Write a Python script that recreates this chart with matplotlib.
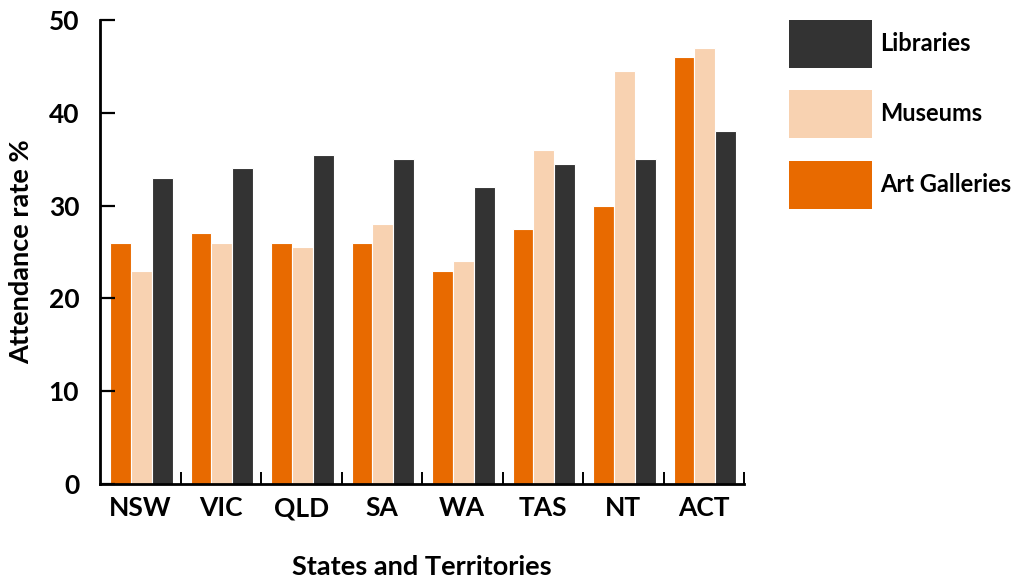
import numpy as np
import matplotlib
matplotlib.use("Agg")
import matplotlib.pyplot as plt
from matplotlib.patches import Patch

states = ["NSW", "VIC", "QLD", "SA", "WA", "TAS", "NT", "ACT"]
art_galleries = [26, 27, 26, 26, 23, 27.5, 30, 46]
museums = [23, 26, 25.5, 28, 24, 36, 44.5, 47]
libraries = [33, 34, 35.5, 35, 32, 34.5, 35, 38]

c_art = "#e86a00"
c_mus = "#f8d2b1"
c_lib = "#333333"

plt.rcParams["font.family"] = ["Lato", "DejaVu Sans"]
plt.rcParams["font.weight"] = "bold"
plt.rcParams["axes.labelweight"] = "bold"

fig = plt.figure(figsize=(10.11, 5.81), dpi=100)
ax = fig.add_axes([100 / 1011, 97 / 581, 644 / 1011, 464 / 581])

x = np.arange(len(states)) + 0.515
w = 0.26
ax.bar(x - w, art_galleries, w, color=c_art, edgecolor="white", linewidth=0.8)
ax.bar(x, museums, w, color=c_mus, edgecolor="white", linewidth=0.8)
ax.bar(x + w, libraries, w, color=c_lib, edgecolor="white", linewidth=0.8)

ax.set_xlim(0, len(states))
ax.set_ylim(0, 50)
ax.set_yticks(range(0, 51, 10))
ax.tick_params(axis="y", direction="in", length=11, width=1.6, labelsize=19, pad=15)

# boundary ticks between states, labels at the centres
ax.set_xticks(np.arange(1, len(states) + 1))
ax.set_xticklabels([])
ax.set_xticks(np.arange(len(states)) + 0.5, minor=True)
ax.set_xticklabels(states, minor=True)
ax.tick_params(axis="x", which="major", direction="in", length=9, width=1.4)
ax.tick_params(axis="x", which="minor", length=0, labelsize=19, pad=9)

for s in ["top", "right"]:
    ax.spines[s].set_visible(False)
for s in ["left", "bottom"]:
    ax.spines[s].set_linewidth(2)

ax.set_ylabel("Attendance rate %", fontsize=19.5, labelpad=11)
ax.set_xlabel("States and Territories", fontsize=19.5, labelpad=25)

handles = [Patch(facecolor=c_lib), Patch(facecolor=c_mus), Patch(facecolor=c_art)]
fig.legend(handles, ["Libraries", "Museums", "Art Galleries"],
           loc="upper left", bbox_to_anchor=(789 / 1011, 1 - 20 / 581),
           frameon=False, fontsize=17, handlelength=3.5, handleheight=2.75,
           handletextpad=0.35, labelspacing=0.95, borderpad=0, borderaxespad=0)

fig.savefig("out.png", dpi=100)
